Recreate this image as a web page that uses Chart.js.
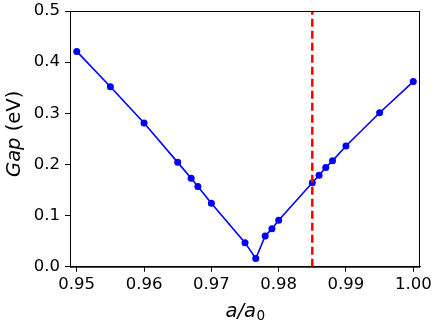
<!DOCTYPE html>
<html lang="en">
<head>
  <meta charset="UTF-8">
  <title>Gap vs a/a0</title>
  <script src="https://cdn.jsdelivr.net/npm/chart.js"></script>
  <style>
    html, body { margin: 0; padding: 0; background: #fff; }
    #wrap { width: 436px; height: 325px; }
  </style>
</head>
<body>
  <div id="wrap"><canvas id="gapChart" width="436" height="325"></canvas></div>

  <script>
    // lattice ratio a/a0 and band gap (eV)
    const ratio = [0.950, 0.955, 0.960, 0.965, 0.967, 0.968, 0.970, 0.975, 0.9766, 0.978,
                   0.979, 0.980, 0.985, 0.986, 0.987, 0.988, 0.990, 0.995, 1.000];
    const gap   = [0.421, 0.352, 0.281, 0.204, 0.173, 0.157, 0.124, 0.047, 0.016, 0.060,
                   0.074, 0.091, 0.164, 0.179, 0.194, 0.207, 0.236, 0.301, 0.362];

    const xTicks = [0.95, 0.96, 0.97, 0.98, 0.99, 1.00];
    const yTicks = [0.0, 0.1, 0.2, 0.3, 0.4, 0.5];
    const markerX = 0.985;   // red dashed reference line
    const markerY = [0.0, 0.5];

    const tickFont = { family: 'DejaVu Sans', size: 16.5 };

    // frame + axis titles (mixed italic / upright like mathtext)
    const decor = {
      id: 'decor',
      afterDraw(chart) {
        const c = chart.ctx, a = chart.chartArea;
        c.save();
        c.strokeStyle = '#000';
        c.lineWidth = 1;
        c.strokeRect(a.left + 0.5, a.top + 0.5, a.right - a.left - 1, a.bottom - a.top);

        c.fillStyle = '#000';
        c.textBaseline = 'alphabetic';
        // x title: a/a0
        const it = 'italic 19.5px "DejaVu Sans"', rm = '13.6px "DejaVu Sans"';
        c.font = it; const w1 = c.measureText('a/a').width;
        c.font = rm; const w2 = c.measureText('0').width;
        let x0 = (a.left + a.right) / 2 - (w1 + w2) / 2;
        c.font = it; c.fillText('a/a', x0, 316.5);
        c.font = rm; c.fillText('0', x0 + w1 + 0.5, 320);

        // y title: Gap (eV)
        c.translate(19.5, (a.top + a.bottom) / 2 - 5);
        c.rotate(-Math.PI / 2);
        c.font = it; const g1 = c.measureText('Gap').width;
        c.font = '19.5px "DejaVu Sans"'; const g2 = c.measureText(' (eV)').width;
        let s = -(g1 + g2) / 2;
        c.font = it; c.fillText('Gap', s, 0);
        c.font = '19.5px "DejaVu Sans"'; c.fillText(' (eV)', s + g1, 0);
        c.restore();
      }
    };

    new Chart(document.getElementById('gapChart'), {
      type: 'scatter',
      data: {
        datasets: [
          {
            data: markerY.map(y => ({ x: markerX, y })),
            showLine: true,
            borderColor: '#ff0000',
            borderWidth: 2.5,
            borderDash: [8, 4],
            pointRadius: 0
          },
          {
            data: ratio.map((x, i) => ({ x, y: gap[i] })),
            showLine: true,
            borderColor: '#0000ff',
            backgroundColor: '#0000ff',
            borderWidth: 1.6,
            pointRadius: 3.5,
            pointBorderWidth: 0,
            tension: 0
          }
        ]
      },
      options: {
        responsive: false,
        animation: false,
        events: [],
        layout: { padding: { top: 11, right: 16, left: 0, bottom: 0 } },
        plugins: { legend: { display: false }, tooltip: { enabled: false } },
        scales: {
          x: {
            type: 'linear',
            min: 0.949, max: 1.001,
            afterBuildTicks: s => { s.ticks = xTicks.map(v => ({ value: v })); },
            afterFit: s => { s.height = 58.3; s.paddingLeft = 0; s.paddingRight = 0; },
            grid: { drawOnChartArea: false, drawTicks: true, tickLength: 5, color: '#000', tickWidth: 1 },
            border: { display: true, color: '#000', width: 1 },
            ticks: { color: '#000', font: tickFont, padding: 3, maxRotation: 0,
                     callback: v => v.toFixed(2) }
          },
          y: {
            min: 0, max: 0.5,
            afterBuildTicks: s => { s.ticks = yTicks.map(v => ({ value: v })); },
            afterFit: s => { s.width = 70; s.paddingTop = 0; s.paddingBottom = 0; },
            grid: { drawOnChartArea: false, drawTicks: true, tickLength: 5, color: '#000', tickWidth: 1 },
            border: { display: true, color: '#000', width: 1 },
            ticks: { color: '#000', font: tickFont, padding: 5,
                     callback: v => v.toFixed(1) }
          }
        }
      },
      plugins: [decor]
    });
  </script>
</body>
</html>
